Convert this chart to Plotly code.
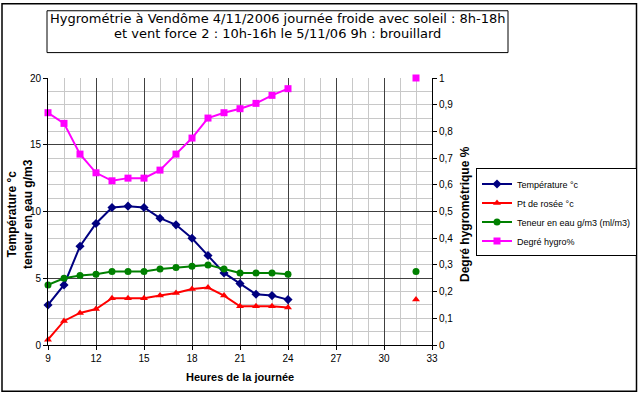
import plotly.graph_objects as go

# ---- data ----
hours = [9, 10, 11, 12, 13, 14, 15, 16, 17, 18, 19, 20, 21, 22, 23, 24, 32]
temperature = [3.0, 4.5, 7.4, 9.1, 10.3, 10.4, 10.3, 9.5, 9.0, 8.0, 6.7, 5.4, 4.6, 3.8, 3.7, 3.4, None]
pt_rosee = [0.4, 1.8, 2.4, 2.7, 3.5, 3.5, 3.5, 3.7, 3.9, 4.2, 4.3, 3.7, 2.9, 2.9, 2.9, 2.8, 3.4]
teneur_eau = [4.5, 5.0, 5.2, 5.3, 5.5, 5.5, 5.5, 5.7, 5.8, 5.9, 6.0, 5.7, 5.4, 5.4, 5.4, 5.3, 5.5]
degre_hygro = [0.87, 0.83, 0.715, 0.645, 0.615, 0.625, 0.625, 0.655, 0.715, 0.775, 0.85, 0.87, 0.885, 0.905, 0.935, 0.96, 1.0]

x_ticks = [9, 12, 15, 18, 21, 24, 27, 30, 33]

names = ["Température °c", "Pt de rosée °c", "Teneur en eau g/m3 (ml/m3)", "Degré hygro%"]
series = [temperature, pt_rosee, teneur_eau, degre_hygro]
colors = ["#000080", "#FF0000", "#008000", "#FF00FF"]
symbols = ["diamond", "triangle-up", "circle", "square"]
axes = ["y", "y", "y", "y2"]

title_lines = [
    "Hygrométrie à Vendôme 4/11/2006 journée froide avec soleil : 8h-18h",
    "et vent force 2 : 10h-16h le 5/11/06 9h : brouillard",
]

FONT = "Liberation Sans, Arial, sans-serif"
TITLE_FONT = "DejaVu Sans, Liberation Sans, sans-serif"

# plot area in pixels
L, R, T, B = 48, 432, 77.5, 345.5
W, H = 640, 397

def px_x(p):
    return (p - L) / (R - L)

def px_y(p):
    return (B - p) / (B - T)

fig = go.Figure()
n_day = 16
for name, vals, col, sym, ax in zip(names, series, colors, symbols, axes):
    fig.add_trace(go.Scatter(
        x=hours[:n_day], y=vals[:n_day], name=name, yaxis=ax,
        mode="lines+markers", cliponaxis=False,
        line=dict(color=col, width=2),
        marker=dict(symbol=sym, color=col, size=7),
    ))
    fig.add_trace(go.Scatter(
        x=hours[n_day:], y=vals[n_day:], name=name, yaxis=ax,
        mode="markers", showlegend=False, cliponaxis=False,
        marker=dict(symbol=sym, color=col, size=7),
    ))

fig.update_layout(
    width=W, height=H,
    margin=dict(l=L, r=W - R, t=T, b=H - B, pad=0, autoexpand=False),
    paper_bgcolor="white", plot_bgcolor="white",
    separators=", ",
    font=dict(family=FONT, color="black", size=10),
    showlegend=True,
    legend=dict(
        x=px_x(476), y=px_y(212.5), xanchor="left", yanchor="middle",
        bordercolor="black", borderwidth=1, bgcolor="white",
        font=dict(size=9, family=FONT), itemwidth=30,
        tracegroupgap=0,
    ),
    xaxis=dict(
        range=[9, 33], tickvals=x_ticks, ticktext=[str(v) for v in x_ticks],
        showline=True, linecolor="black", linewidth=1,
        ticks="outside", ticklen=4, tickcolor="black",
        showgrid=True, gridcolor="#404040", gridwidth=1,
        minor=dict(dtick=1, showgrid=True, gridcolor="#C8C8C8", gridwidth=1),
        zeroline=False,
        tickfont=dict(size=10),
    ),
    yaxis=dict(
        range=[0, 20], dtick=5,
        showline=True, linecolor="black", linewidth=1,
        ticks="outside", ticklen=4, tickcolor="black",
        showgrid=True, gridcolor="#404040", gridwidth=1,
        minor=dict(dtick=1, showgrid=True, gridcolor="#C8C8C8", gridwidth=1),
        zeroline=False,
        tickfont=dict(size=10),
    ),
    yaxis2=dict(
        range=[0, 1], dtick=0.1, overlaying="y", side="right",
        showline=True, linecolor="black", linewidth=1,
        ticks="outside", ticklen=4, tickcolor="black",
        showgrid=False, zeroline=False,
        tickfont=dict(size=10),
    ),
)

# outer chart border and title box
fig.add_shape(type="rect", xref="paper", yref="paper",
              x0=px_x(2), x1=px_x(636.5), y0=px_y(392), y1=px_y(3),
              line=dict(color="black", width=1.5), fillcolor="rgba(0,0,0,0)", layer="below")
fig.add_shape(type="rect", xref="paper", yref="paper",
              x0=px_x(47), x1=px_x(508), y0=px_y(52), y1=px_y(10),
              line=dict(color="black", width=1), fillcolor="white")

for line_text, cy in zip(title_lines, [17.5, 32.5]):
    fig.add_annotation(
        xref="paper", yref="paper", x=px_x(277.5), y=px_y(cy), xanchor="center", yanchor="middle",
        text=line_text, showarrow=False, align="center",
        font=dict(size=13, family=TITLE_FONT, color="black"),
    )
fig.add_annotation(
    xref="paper", yref="paper", x=px_x(20), y=px_y(214), xanchor="center", yanchor="middle",
    text="<b>Température °c<br>teneur en eau g/m3</b>", textangle=-90,
    showarrow=False, align="center", font=dict(size=12, family=FONT, color="black"),
)
fig.add_annotation(
    xref="paper", yref="paper", x=px_x(465), y=px_y(214), xanchor="center", yanchor="middle",
    text="<b>Degré hygrométrique %</b>", textangle=-90,
    showarrow=False, font=dict(size=12, family=FONT, color="black"),
)
fig.add_annotation(
    xref="paper", yref="paper", x=px_x(240), y=px_y(378), xanchor="center", yanchor="middle",
    text="<b>Heures de la journée</b>",
    showarrow=False, font=dict(size=11, family=FONT, color="black"),
)

fig.write_html(
    "out.html",
    config={"displayModeBar": False},
    post_script="document.body.style.margin='0';document.body.style.overflow='hidden';",
)
